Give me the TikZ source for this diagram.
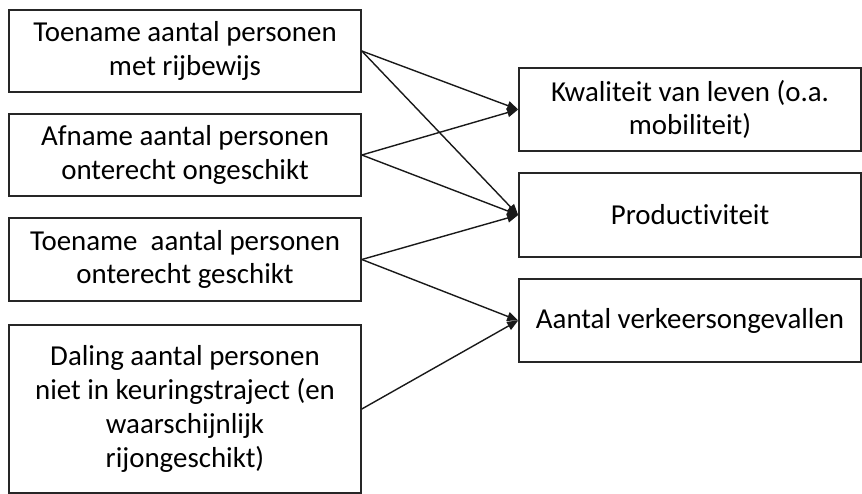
\documentclass[tikz,border=0pt]{standalone}
\usepackage{fontspec}
\setmainfont[Ligatures=NoCommon]{Carlito}
\usetikzlibrary{arrows.meta}
\begin{document}
\begin{tikzpicture}[x=1bp,y=-1bp,
  box/.style={draw=black!85,line width=1.6bp,rectangle,inner sep=0pt,align=center,
    font=\fontsize{29}{34}\selectfont},
  lbox/.style={box,minimum width=352bp},
  rbox/.style={box,minimum width=342bp},
  conn/.style={draw=black!90,line width=1.4bp,-{Triangle[length=11bp,width=9bp]}}]
\useasboundingbox (0,0) rectangle (862,494);
\node[lbox,minimum height=82bp] (l1) at (185,51) {Toename aantal personen\\met rijbewijs};
\node[lbox,minimum height=82bp] (l2) at (185,155) {Afname aantal personen\\onterecht ongeschikt};
\node[lbox,minimum height=83bp] (l3) at (185,259.5) {Toename\ \ aantal personen\\onterecht geschikt};
\node[lbox,minimum height=168bp] (l4) at (185,409) {Daling aantal personen\\niet in keuringstraject (en\\waarschijnlijk\\rijongeschikt)};
\node[rbox,minimum height=83bp] (ra) at (690,109.5) {Kwaliteit van leven (o.a.\\mobiliteit)};
\node[rbox,minimum height=84bp] (rb) at (690,215) {Productiviteit};
\node[rbox,minimum height=83bp] (rc) at (690,320.5) {Aantal verkeersongevallen};
\draw[conn] (l1.east) -- (ra.west);
\draw[conn] (l1.east) -- (rb.west);
\draw[conn] (l2.east) -- (ra.west);
\draw[conn] (l2.east) -- (rb.west);
\draw[conn] (l3.east) -- (rb.west);
\draw[conn] (l3.east) -- (rc.west);
\draw[conn] (l4.east) -- (rc.west);
\end{tikzpicture}
\end{document}
